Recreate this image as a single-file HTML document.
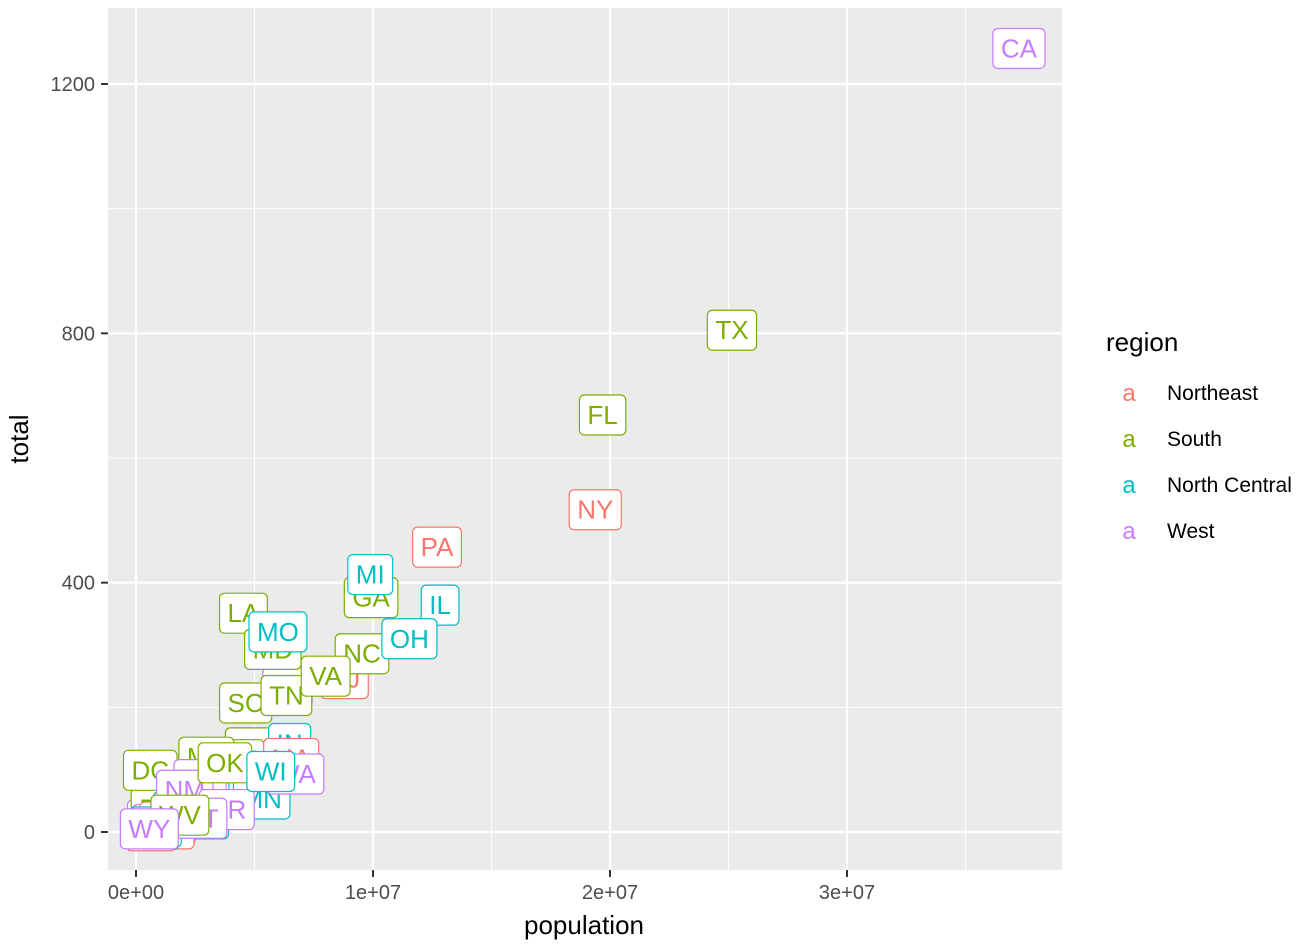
<!DOCTYPE html>
<html><head><meta charset="utf-8"><style>
body{margin:0;background:#fff;font-family:"Liberation Sans",Arial,sans-serif}
svg text{font-family:"Liberation Sans",Arial,sans-serif}
</style></head><body>
<svg id="c" width="1312" height="944" xmlns="http://www.w3.org/2000/svg">
<rect x="108" y="8" width="954" height="862" fill="#EBEBEB"/>
<g id="grid"></g>
<g id="axes"></g>
<g id="pts"></g>
<text x="584" y="934" font-size="26" text-anchor="middle" fill="#000">population</text>
<text x="28" y="439" font-size="26" text-anchor="middle" fill="#000" transform="rotate(-90 28 439)">total</text>
<g>
<text x="1106" y="351" font-size="26" fill="#000">region</text>
<g id="leg"></g>
</g>
</svg>
<script>
const abbs=["AL","AK","AZ","AR","CA","CO","CT","DE","DC","FL","GA","HI","ID","IL","IN","IA","KS","KY","LA","ME","MD","MA","MI","MN","MS","MO","MT","NE","NV","NH","NJ","NM","NY","NC","ND","OH","OK","OR","PA","RI","SC","SD","TN","TX","UT","VT","VA","WA","WV","WI","WY"];
const population=[4779736,710231,6392017,2915918,37253956,5029196,3574097,897934,601723,19687653,9920000,1360301,1567582,12830632,6483802,3046355,2853118,4339367,4533372,1328361,5773552,6547629,9883640,5303925,2967297,5988927,989415,1826341,2700551,1316470,8791894,2059179,19378102,9535483,672591,11536504,3751351,3831074,12702379,1052567,4625364,814180,6346105,25145561,2763885,625741,8001024,6724540,1852994,5686986,563626];
const total=[135,19,232,93,1257,65,97,38,99,669,376,7,12,364,142,21,63,116,351,11,293,118,413,53,120,321,12,32,84,5,246,67,517,286,4,310,111,36,457,16,207,8,219,805,22,2,250,93,27,97,5];
const region=["S","W","W","S","W","W","NE","S","S","S","S","W","W","NC","NC","NC","NC","S","S","NE","S","NE","NC","NC","S","NC","W","NC","W","NE","NE","W","NE","S","NC","NC","S","W","NE","NE","S","NC","S","S","W","NE","S","W","S","NC","W"];
const regionKeys=["NE","S","NC","W"];
const regionNames=["Northeast","South","North Central","West"];
const regionColors=["#F8766D","#7CAE00","#00BFC4","#C77CFF"];
const xTicks=[0,1e7,2e7,3e7];
const xTickLabels=["0e+00","1e+07","2e+07","3e+07"];
const yTicks=[0,400,800,1200];
const NS="http://www.w3.org/2000/svg";
const X=v=>136+v*(711/3e7);
const Y=v=>832-v*(748/1200);
function mk(t,a,p){const e=document.createElementNS(NS,t);for(const k in a)e.setAttribute(k,a[k]);p.appendChild(e);return e;}
const grid=document.getElementById('grid'),axes=document.getElementById('axes');
[5e6,1.5e7,2.5e7,3.5e7].forEach(v=>{const l=mk('line',{x1:X(v),x2:X(v),y1:8,y2:870,stroke:'#fff','stroke-width':1},grid);});
[200,600,1000].forEach(v=>{const l=mk('line',{x1:108,x2:1062,y1:Y(v),y2:Y(v),stroke:'#fff','stroke-width':1},grid);});
xTicks.forEach((v,i)=>{const l=mk('line',{x1:X(v),x2:X(v),y1:8,y2:870,stroke:'#fff','stroke-width':2.2},grid);
mk('line',{x1:X(v),x2:X(v),y1:870,y2:877,stroke:'#333','stroke-width':2},axes);
const t=mk('text',{x:X(v),y:899,'font-size':20,'text-anchor':'middle',fill:'#4D4D4D'},axes);t.textContent=xTickLabels[i];});
yTicks.forEach(v=>{const l=mk('line',{x1:108,x2:1062,y1:Y(v),y2:Y(v),stroke:'#fff','stroke-width':2.2},grid);
mk('line',{x1:101,x2:108,y1:Y(v),y2:Y(v),stroke:'#333','stroke-width':2},axes);
const t=mk('text',{x:95,y:Y(v)+7,'font-size':20,'text-anchor':'end',fill:'#4D4D4D'},axes);t.textContent=v;});
const pts=document.getElementById('pts');
abbs.forEach((a,i)=>{const col=regionColors[regionKeys.indexOf(region[i])];
const g=mk('g',{},pts);
const cx=X(population[i]),cy=Y(total[i]);
const r=mk('rect',{fill:'#fff',stroke:col,'stroke-width':1.2,rx:5,ry:5},g);
const t=mk('text',{x:cx,y:cy+9,'font-size':26,'text-anchor':'middle',fill:col},g);t.textContent=a;
const w=t.getComputedTextLength()||38;
r.setAttribute('x',cx-w/2-8);r.setAttribute('width',w+16);r.setAttribute('y',cy-20);r.setAttribute('height',40);});
const leg=document.getElementById('leg');
regionNames.forEach((n,i)=>{const y=392+i*46;
const k=mk('text',{x:1129,y:y+9,'font-size':24,'text-anchor':'middle',fill:regionColors[i]},leg);k.textContent='a';
const t=mk('text',{x:1167,y:y+8,'font-size':21,fill:'#000'},leg);t.textContent=n;});
</script>
</body></html>
